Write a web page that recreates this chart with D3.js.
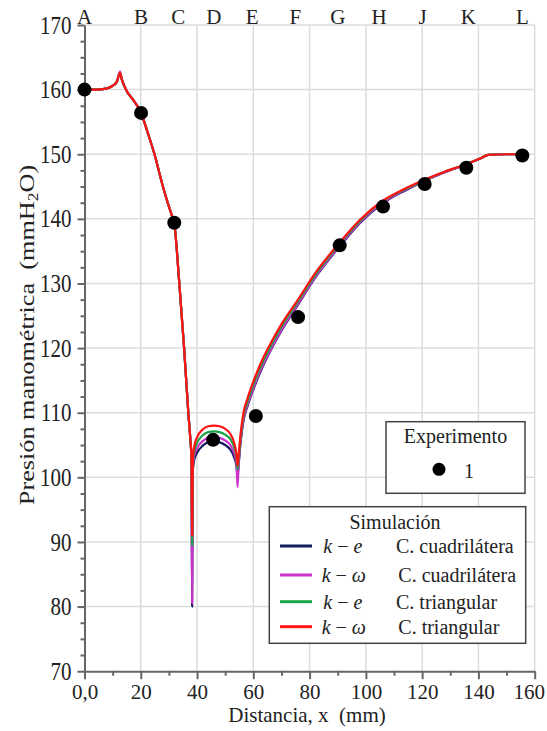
<!DOCTYPE html>
<html lang="es">
<head>
<meta charset="utf-8">
<title>Presión manométrica vs distancia</title>
<script src="https://d3js.org/d3.v7.min.js"></script>
<style>
  body { margin: 0; background: #fff; }
  svg { display: block; }
  svg text { font-family: "Liberation Serif", "DejaVu Serif", "Noto Serif", serif; }
  .grid line { stroke: #dcdcdc; stroke-width: 1.5; }
  .axis path, .axis line { stroke: #666; stroke-width: 2; }
  .axis text { font-size: 21px; fill: #222; }
  .etiqueta { font-size: 21px; fill: #222; }
  .leyenda text { font-size: 20px; fill: #222; }
</style>
</head>
<body>
<div id="chart"></div>
<script>
// simulated pressure along the duct (mm, mmH2O)
const distSim = [0, 4, 8, 10, 11.5, 12.6, 13.3, 15, 17.5, 20, 22.5, 25, 27.5, 29.5, 31, 31.9, 33.7, 35.4, 36.9, 37.6,
  38.0, 38.25, 38.5, 39, 40, 42, 44, 46, 48, 50, 52, 53.2, 54, 54.4, 54.8, 55.5, 56.6, 58, 60, 63,
  66, 70, 76, 82, 91, 98, 106, 114, 121, 128, 136, 141, 143.5, 150, 156];

const pKeCuad = [160, 160, 160.2, 160.6, 161.2, 162.6, 161.5, 159.8, 158.3, 156.5, 153.3, 149.8, 145.6, 142.6, 140.6, 139.3, 130, 120, 110, 106,
  102.8, 80.0, 101.0, 102.7, 103.8, 104.9, 105.4, 105.5, 105.4, 105.0, 104.2, 103.1, 101.8, 100.3, 102.0, 105.5, 109.0, 111.1, 113.6, 116.8,
  119.5, 122.7, 126.8, 130.9, 135.9, 139.4, 142.4, 144.4, 145.9, 147.2, 148.5, 149.4, 149.9, 150.0, 150.0];

const pKwCuad = [160, 160, 160.2, 160.6, 161.3, 162.8, 161.6, 159.8, 158.3, 156.5, 153.3, 149.8, 145.6, 142.6, 140.6, 139.3, 130, 120, 110, 106,
  103.0, 80.5, 101.5, 103.3, 104.5, 105.6, 106.1, 106.2, 106.1, 105.7, 104.9, 103.7, 102.2, 98.5, 102.2, 105.7, 109.2, 111.3, 113.8, 117.0,
  119.6, 122.8, 126.9, 131.0, 136.0, 139.5, 142.5, 144.5, 145.9, 147.2, 148.5, 149.4, 149.9, 150.0, 150.0];

const pKeTri = [160, 160, 160.2, 160.6, 161.2, 162.6, 161.5, 159.8, 158.3, 156.5, 153.3, 149.8, 145.6, 142.6, 140.6, 139.3, 130, 120, 110, 106,
  103.2, 89.5, 102.0, 104.0, 105.3, 106.5, 107.0, 107.1, 107.0, 106.6, 105.8, 104.6, 103.0, 101.3, 103.0, 106.3, 109.7, 111.8, 114.3, 117.5,
  120.1, 123.3, 127.3, 131.3, 136.3, 139.7, 142.7, 144.6, 146.0, 147.3, 148.5, 149.4, 149.9, 150.0, 150.0];

const pKwTri = [160, 160, 160.2, 160.6, 161.2, 162.6, 161.5, 159.8, 158.3, 156.5, 153.3, 149.8, 145.6, 142.6, 140.6, 139.3, 130, 120, 110, 106,
  103.5, 91.0, 102.5, 104.8, 106.2, 107.4, 107.9, 108.0, 107.9, 107.5, 106.6, 105.3, 103.6, 101.8, 103.6, 106.8, 110.2, 112.3, 114.8, 118.0,
  120.6, 123.7, 127.6, 131.6, 136.5, 139.9, 142.8, 144.7, 146.1, 147.3, 148.5, 149.4, 149.9, 150.0, 150.0];

// experiment
const distExp = [0, 20.1, 31.9, 45.7, 60.9, 75.9, 90.7, 106.1, 120.9, 135.7, 155.6];
const presExp = [160.0, 156.4, 139.4, 105.8, 109.5, 124.8, 135.9, 141.9, 145.4, 147.9, 149.8];

// stations on top
const estaciones = ["A", "B", "C", "D", "E", "F", "G", "H", "J", "K", "L"];
const posEstaciones = [0, 20.1, 33.3, 46, 59.6, 74.9, 90, 104.7, 120.2, 136.4, 155.6];

const xTicks = [0, 20, 40, 60, 80, 100, 120, 140, 160];
const yTicks = [70, 80, 90, 100, 110, 120, 130, 140, 150, 160, 170];

const modelos = ["k − e", "k − ω", "k − e", "k − ω"];
const mallas = ["C. cuadrilátera", "C. cuadrilátera", "C. triangular", "C. triangular"];
const colores = ["#111b5e", "#cc33cc", "#1ba34a", "#ff1414"];
const seriesSim = [pKeCuad, pKwCuad, pKeTri, pKwTri];

const width = 547, height = 731;

const svg = d3.select("#chart").append("svg")
    .attr("width", width)
    .attr("height", height);

const x = d3.scaleLinear().domain([0, 160]).range([84.5, 534.7]);
const y = d3.scaleLinear().domain([70, 170]).range([671.2, 25]);

// grid
const grid = svg.append("g").attr("class", "grid");
grid.selectAll("line.v")
  .data(xTicks.slice(1))
  .join("line")
    .attr("x1", d => x(d)).attr("x2", d => x(d))
    .attr("y1", y(70)).attr("y2", y(170));
grid.selectAll("line.h")
  .data(yTicks.slice(1))
  .join("line")
    .attr("class", "h")
    .attr("x1", x(0)).attr("x2", x(160))
    .attr("y1", d => y(d)).attr("y2", d => y(d));

// simulation lines
const line = d3.line()
    .x((d, i) => x(distSim[i]))
    .y(d => y(d))
    .curve(d3.curveMonotoneX);

svg.append("g")
  .selectAll("path")
  .data(seriesSim)
  .join("path")
    .attr("fill", "none")
    .attr("stroke", (d, i) => colores[i])
    .attr("stroke-width", 2.2)
    .attr("stroke-linejoin", "round")
    .attr("d", line);

// axes
const xAxis = svg.append("g")
    .attr("class", "axis")
    .attr("transform", `translate(0,${y(70)})`)
    .call(d3.axisBottom(x).tickValues(xTicks).tickSize(8).tickSizeOuter(0).tickPadding(5)
      .tickFormat(d => d === 0 ? "0,0" : d));
// last label sits a bit to the left so it fits
xAxis.selectAll(".tick text").filter(d => d === 160).attr("dx", -6);
svg.append("g")
    .attr("class", "axis")
    .attr("transform", `translate(0,${y(70)})`)
    .call(d3.axisBottom(x).tickValues(d3.range(10, 160, 20)).tickSize(4.5).tickSizeOuter(0).tickFormat(""))
    .select("path").remove();

const yAxis = svg.append("g")
    .attr("class", "axis")
    .attr("transform", `translate(${x(0)},0)`)
    .call(d3.axisLeft(y).tickValues(yTicks).tickSize(7).tickSizeOuter(0).tickPadding(6));
yAxis.selectAll("text").attr("transform", "scale(1,1.2)");
svg.append("g")
    .attr("class", "axis")
    .attr("transform", `translate(${x(0)},0)`)
    .call(d3.axisLeft(y).tickValues(d3.range(72.5, 170, 2.5).filter(v => v % 10 !== 0)).tickSize(4).tickSizeOuter(0).tickFormat(""))
    .select("path").remove();

// station letters
svg.append("g")
  .selectAll("text")
  .data(estaciones)
  .join("text")
    .attr("class", "etiqueta")
    .attr("x", (d, i) => x(posEstaciones[i]))
    .attr("y", 24)
    .attr("text-anchor", "middle")
    .text(d => d);

// experimental points
svg.append("g")
  .selectAll("circle")
  .data(presExp)
  .join("circle")
    .attr("cx", (d, i) => x(distExp[i]))
    .attr("cy", d => y(d))
    .attr("r", 7)
    .attr("fill", "#000");

// axis titles
svg.append("text")
    .attr("class", "etiqueta")
    .attr("x", 307).attr("y", 722)
    .attr("text-anchor", "middle")
    .attr("xml:space", "preserve")
    .text("Distancia, x  (mm)");

const yt = svg.append("text")
    .attr("class", "etiqueta")
    .attr("transform", "translate(34,335) rotate(-90) scale(1.25,1)")
    .attr("text-anchor", "middle")
    .attr("xml:space", "preserve");
yt.append("tspan").text("Presión manométrica  (mmH");
yt.append("tspan").attr("font-size", 14).attr("dy", 4).text("2");
yt.append("tspan").attr("dy", -4).text("O)");

// legend: experiment
const leg1 = svg.append("g").attr("class", "leyenda");
leg1.append("rect")
    .attr("x", 386).attr("y", 421.7).attr("width", 139).attr("height", 71.6)
    .attr("fill", "#fff").attr("stroke", "#444").attr("stroke-width", 1.5);
leg1.append("text").attr("x", 455.5).attr("y", 443).attr("text-anchor", "middle").text("Experimento");
leg1.append("circle").attr("cx", 439).attr("cy", 469.3).attr("r", 6.5).attr("fill", "#000");
leg1.append("text").attr("x", 464).attr("y", 478).text("1");

// legend: simulation
const leg2 = svg.append("g").attr("class", "leyenda");
leg2.append("rect")
    .attr("x", 269.3).attr("y", 506.7).attr("width", 256.4).attr("height", 136.6)
    .attr("fill", "#fff").attr("stroke", "#444").attr("stroke-width", 1.5);
leg2.append("text").attr("x", 395).attr("y", 529.3).attr("text-anchor", "middle").text("Simulación");

const filaY = [546, 575, 601.7, 626.7];
const filas = leg2.selectAll("g.fila")
  .data(modelos)
  .join("g")
    .attr("class", "fila")
    .attr("transform", (d, i) => `translate(0,${filaY[i]})`);
filas.append("line")
    .attr("x1", 280).attr("x2", 312)
    .attr("stroke", (d, i) => colores[i])
    .attr("stroke-width", 3);
filas.each(function(d, i) {
  const t = d3.select(this).append("text")
      .attr("x", i % 2 === 0 ? 323.3 : 321.7)
      .attr("y", 7)
      .attr("xml:space", "preserve");
  const parts = d.split(" − ");
  t.append("tspan").attr("font-style", "italic").text(parts[0]);
  t.append("tspan").text(" − ");
  t.append("tspan").attr("font-style", "italic").text(parts[1]);
});
filas.append("text")
    .attr("x", (d, i) => i % 2 === 0 ? 396 : 398.3)
    .attr("y", 7)
    .text((d, i) => mallas[i]);
</script>
</body>
</html>
